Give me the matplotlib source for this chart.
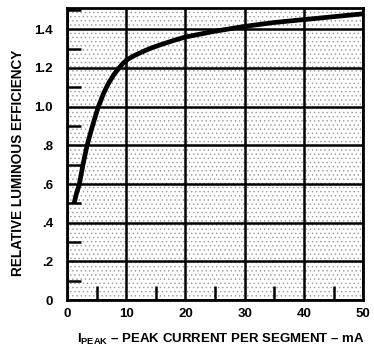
import matplotlib
matplotlib.use("Agg")
import matplotlib.pyplot as plt
from matplotlib.patches import Rectangle
from matplotlib.ticker import MultipleLocator

plt.rcParams['font.family'] = ['Liberation Sans', 'DejaVu Sans']
plt.rcParams['mathtext.fontset'] = 'custom'
plt.rcParams['mathtext.bf'] = 'Liberation Sans:bold'
plt.rcParams['mathtext.rm'] = 'Liberation Sans:bold'
plt.rcParams['hatch.linewidth'] = 0.5

# ===== DATOS =====
i_peak = [1.2, 1.6, 2.1, 2.7, 3.4, 4.3, 5.3, 6.2, 7.0, 7.9, 8.8, 9.5, 10.2, 11.0, 12.0,
          13.2, 14.4, 16.0, 18.0, 20, 25, 30, 35, 40, 45, 50]
rel_eff = [0.5, 0.55, 0.6, 0.7, 0.8, 0.9, 1.0, 1.07, 1.12, 1.165, 1.2, 1.225, 1.243, 1.258, 1.273,
           1.29, 1.305, 1.322, 1.342, 1.36, 1.39, 1.415, 1.435, 1.45, 1.465, 1.48]

x_ticks = [0, 10, 20, 30, 40, 50]
y_ticks = [0, 0.2, 0.4, 0.6, 0.8, 1.0, 1.2, 1.4]
y_labels = ['0', '.2', '.4', '.6', '.8', '1.0', '1.2', '1.4']

fig = plt.figure(figsize=(3.74, 3.47), dpi=100)
ax = fig.add_axes([0.179, 0.135, 0.792, 0.842])

# fondo punteado
ax.add_patch(Rectangle((0, 0), 1, 1, transform=ax.transAxes, hatch='....',
                       fill=False, edgecolor='0.6', lw=0, zorder=0))

ax.plot(i_peak, rel_eff, color='black', lw=3.4, solid_joinstyle='round',
        solid_capstyle='butt', zorder=3)

ax.set_xlim(0, 50)
ax.set_ylim(0, 1.51)
ax.set_xticks(x_ticks)
ax.set_yticks(y_ticks)
ax.set_yticklabels(y_labels)
ax.xaxis.set_minor_locator(MultipleLocator(5))
ax.yaxis.set_minor_locator(MultipleLocator(0.1))
ax.grid(True, which='major', color='black', lw=1.8, zorder=1)
ax.set_axisbelow(True)

ax.tick_params(which='major', length=0, labelsize=9.5)
ax.tick_params(axis='x', which='major', pad=6)
ax.tick_params(axis='y', which='major', pad=10)
ax.tick_params(which='minor', direction='in', length=10, width=1.8,
               left=True, bottom=True, right=False, top=False)
for lbl in ax.get_xticklabels() + ax.get_yticklabels():
    lbl.set_fontweight('bold')
for s in ax.spines.values():
    s.set_linewidth(2)

ax.set_xlabel(r'I$_{\mathbf{PEAK}}$ – PEAK CURRENT PER SEGMENT – mA',
              fontsize=9.5, fontweight='bold')
ax.xaxis.set_label_coords(0.52, -0.11)
ax.set_ylabel('RELATIVE LUMINOUS EFFICIENCY', fontsize=9.8,
              fontweight='bold')
ax.yaxis.set_label_coords(-0.142, 0.47)

fig.savefig('out.png', dpi=100)
